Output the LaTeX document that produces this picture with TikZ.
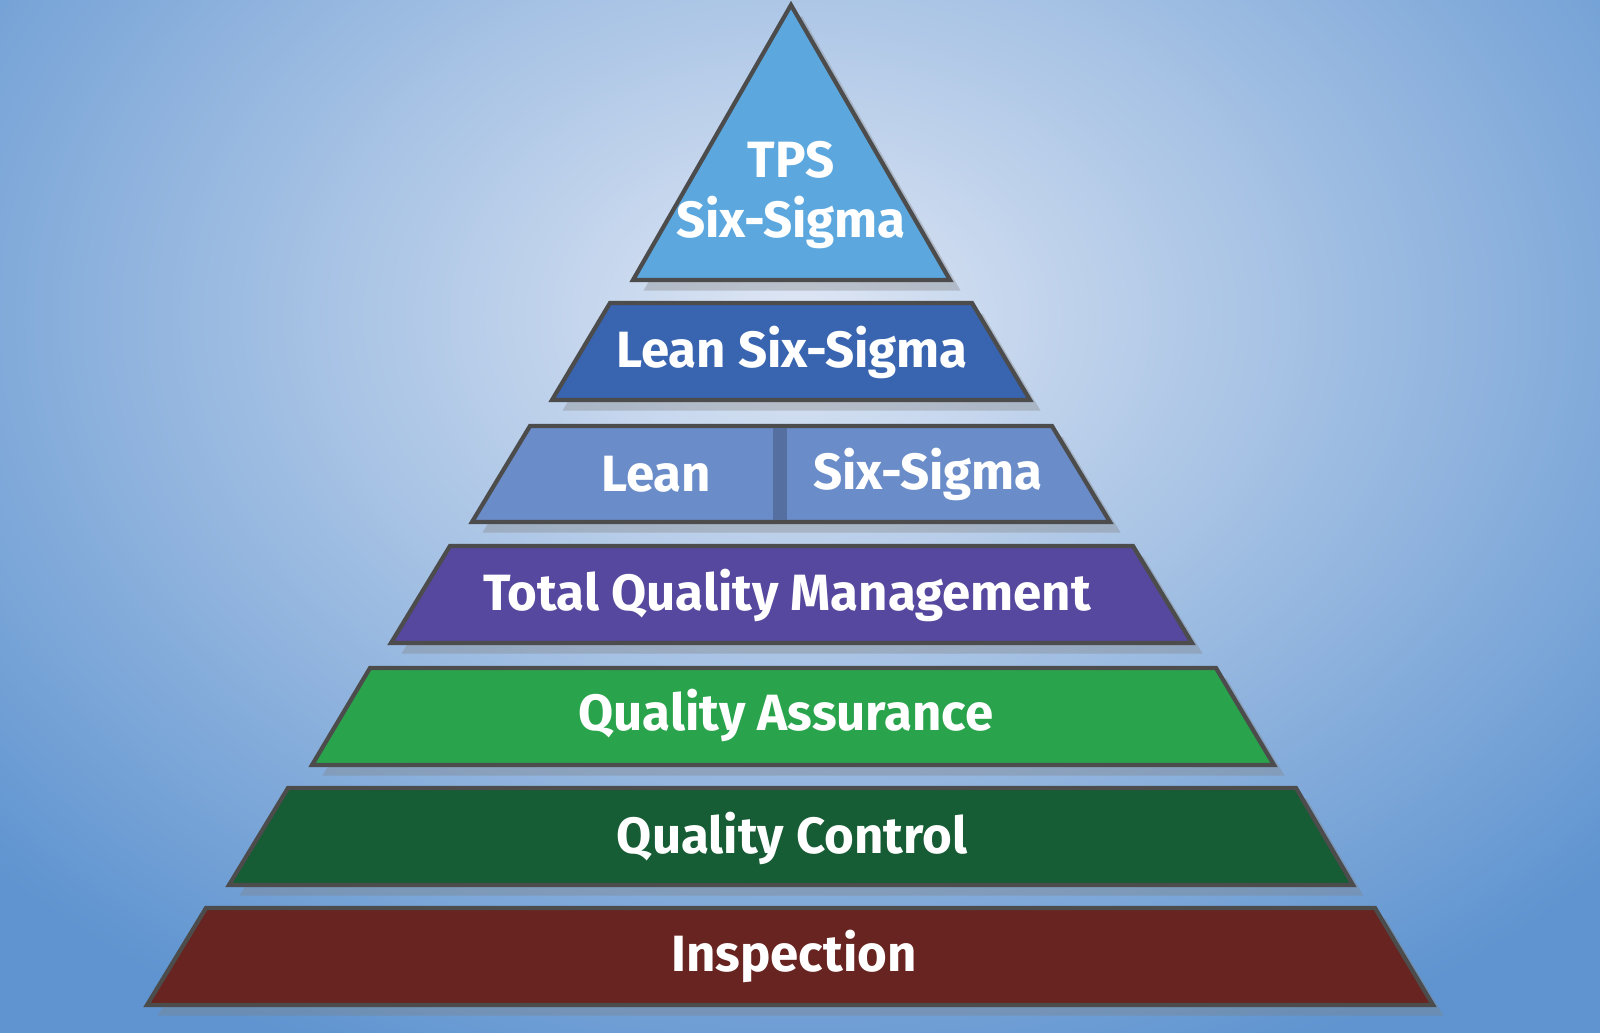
\documentclass[tikz,border=0pt]{standalone}
\usepackage{fontspec}
\setmainfont{Fira Sans}
\usetikzlibrary{shadows}
\definecolor{bgout}{RGB}{95,148,208}
\definecolor{bgin}{RGB}{222,230,244}
\definecolor{tpsblue}{RGB}{92,168,222}
\definecolor{lssblue}{RGB}{56,100,176}
\definecolor{leanblue}{RGB}{106,140,200}
\definecolor{tqmpurple}{RGB}{86,72,158}
\definecolor{qagreen}{RGB}{42,164,76}
\definecolor{qcgreen}{RGB}{22,92,52}
\definecolor{insred}{RGB}{104,36,32}
\tikzset{
  layer/.style={draw=black!70, line width=1.2pt, drop shadow={shadow xshift=3pt, shadow yshift=-3pt, opacity=0.35}},
  layertext/.style={text=white, font=\bfseries\fontsize{14.5}{17}\selectfont, align=center}
}
\begin{document}
\begin{tikzpicture}[x=0.01cm,y=-0.01cm]
  \useasboundingbox (0,0) rectangle (1600,1032);
  \clip (0,0) rectangle (1600,1032);
  % background
  \shade[inner color=bgin, outer color=bgout] (-300,-500) rectangle (1900,1132);
  % layers
  \fill[layer, fill=tpsblue] (791,5) -- (950,280) -- (633,280) -- cycle;
  \fill[layer, fill=lssblue] (610,303) -- (972,303) -- (1030,400) -- (552,400) -- cycle;
  \fill[layer, fill=leanblue] (530,426) -- (1052,426) -- (1110,522) -- (472,522) -- cycle;
  \draw[line width=4pt, leanblue!80!black] (780,428) -- (780,520);
  \fill[layer, fill=tqmpurple] (450,546) -- (1133,546) -- (1192,643) -- (391,643) -- cycle;
  \fill[layer, fill=qagreen] (370,668) -- (1216,668) -- (1274,765) -- (312,765) -- cycle;
  \fill[layer, fill=qcgreen] (288,788) -- (1296,788) -- (1353,885) -- (229,885) -- cycle;
  \fill[layer, fill=insred] (206,908) -- (1375,908) -- (1433,1005) -- (147,1005) -- cycle;
  % texts
  \node[layertext] (tps) at (791,195) {TPS\\Six-Sigma};
  \node[layertext] (lss) at (792,352) {Lean Six-Sigma};
  \node[layertext] (lean) at (656,474) {Lean};
  \node[layertext] (six) at (928,474) {Six-Sigma};
  \node[layertext] (tqm) at (787,595) {Total Quality Management};
  \node[layertext] (qa) at (786,715) {Quality Assurance};
  \node[layertext] (qc) at (792,838) {Quality Control};
  \node[layertext] (ins) at (794,956) {Inspection};
\end{tikzpicture}
\end{document}
